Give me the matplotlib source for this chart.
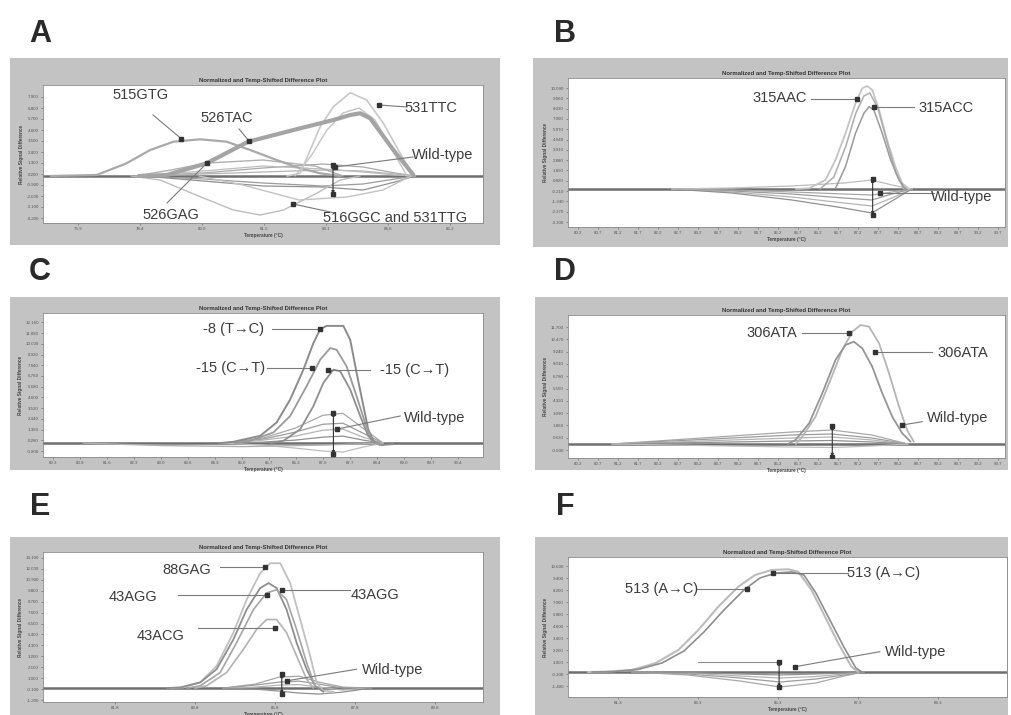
import matplotlib
matplotlib.use('Agg')
import matplotlib.pyplot as plt
from matplotlib.patches import Rectangle
import numpy as np

plt.rcParams['font.family'] = ['Liberation Sans', 'DejaVu Sans']

# ---------------- DATA (temperature in degC, relative signal difference) -------------
TITLE = "Normalized and Temp-Shifted Difference Plot"
XLABEL = "Temperature (\u00b0C)"
YLABEL = "Relative Signal Difference"

# Panel A
A_515GTG_x = [76.2, 77.34, 78.09, 78.68, 79.26, 79.93, 80.59, 81.18, 81.84, 82.43, 82.93, 83.43]
A_515GTG_y = [0.0, 0.1, 1.27, 2.6, 3.43, 3.67, 3.43, 2.6, 1.6, 0.77, 0.27, 0.0]
A_526TAC_x = [78.4, 79.09, 80.09, 81.13, 82.43, 83.26, 83.68, 83.93, 84.18, 84.76, 85.26]
A_526TAC_y = [0.0, 0.1, 1.27, 3.43, 4.77, 5.6, 6.1, 6.27, 5.77, 2.6, 0.1]
A_531TTC_x = [82.1, 82.43, 82.68, 82.93, 83.26, 83.68, 84.09, 84.51, 84.93, 85.26]
A_531TTC_y = [0.0, 0.27, 2.6, 4.93, 6.93, 8.33, 7.6, 5.27, 2.27, 0.1]
A_531TTC2_x = [82.3, 82.7, 83.1, 83.5, 83.9, 84.3, 84.7, 85.1]
A_531TTC2_y = [0.0, 2.0, 4.6, 6.3, 6.8, 5.6, 2.8, 0.0]
A_526GAG_x = [78.3, 79.2, 80.1, 81.5, 82.8, 83.5]
A_526GAG_y = [0.0, 0.6, 1.3, 1.6, 1.0, 0.0]
A_516GGC_x = [78.2, 78.93, 79.93, 80.76, 81.43, 82.01, 82.84, 83.43, 83.93]
A_516GGC_y = [0.0, -0.4, -2.07, -3.4, -3.9, -3.4, -1.73, -0.4, 0.0]
A_531TTG_x = [79.9, 81.0, 82.4, 83.6, 84.5, 85.2]
A_531TTG_y = [0.0, -0.9, -2.4, -2.1, -1.4, 0.0]
A_wt_x = [78.5, 80.0, 81.5, 83.0, 84.0, 84.8, 85.3]
A_wt_y = [[0, 0.3, 0.8, 1.2, 0.9, 0.3, 0],
          [0, -0.3, -0.7, -1.0, -0.8, -0.3, 0],
          [0, 0.2, 0.4, 0.6, 0.5, 0.2, 0],
          [0, -0.5, -1.0, -1.1, -1.4, -0.6, 0],
          [0, 0.5, 1.0, 0.7, 0.4, 0.1, 0]]

# Panel B
B_315AAC_x = [85.6, 85.93, 86.34, 86.59, 86.84, 87.09, 87.26, 87.38, 87.51, 87.68, 87.88, 88.09, 88.26, 88.43]
B_315AAC_y = [0.0, 0.07, 0.9, 2.9, 5.57, 8.57, 10.07, 10.3, 9.9, 7.9, 4.9, 2.23, 0.57, 0.0]
B_315AAC2_x = [86.2, 86.55, 86.85, 87.1, 87.3, 87.45, 87.65, 87.9, 88.1, 88.3]
B_315AAC2_y = [0.0, 1.2, 4.3, 7.6, 9.3, 9.6, 8.1, 4.4, 1.6, 0.0]
B_315ACC_x = [86.59, 86.84, 87.09, 87.3, 87.43, 87.55, 87.76, 87.97, 88.18, 88.34]
B_315ACC_y = [0.07, 2.23, 5.57, 7.57, 8.23, 7.9, 5.57, 2.9, 0.9, 0.0]
B_wt_x = [82.5, 84.0, 85.5, 86.8, 87.5, 88.0, 88.5]
B_wt_y = [[0, -0.1, -0.3, -0.5, -0.6, -0.3, 0],
          [0, -0.2, -0.5, -0.9, -1.1, -0.5, 0],
          [0, -0.3, -0.8, -1.4, -1.7, -0.9, 0],
          [0, -0.4, -1.1, -1.9, -2.4, -1.2, 0],
          [0, 0.1, 0.3, 0.6, 0.9, 0.4, 0]]

# Panel C
C_m8_x = [84.4, 84.76, 85.43, 85.84, 86.18, 86.51, 86.76, 86.93, 87.09, 87.51, 87.68, 87.84, 88.01, 88.13, 88.26, 88.43, 88.76]
C_m8_y = [0.0, 0.13, 0.73, 2.07, 4.4, 7.4, 10.07, 11.47, 11.8, 11.8, 10.4, 7.07, 3.73, 1.4, 0.23, -0.2, -0.1]
C_m15a_x = [84.8, 85.18, 85.76, 86.18, 86.59, 86.93, 87.18, 87.34, 87.59, 87.84, 88.05, 88.22, 88.43]
C_m15a_y = [0.0, 0.23, 1.07, 2.73, 5.73, 8.4, 9.57, 9.4, 7.73, 4.73, 2.07, 0.23, -0.2]
C_m15b_x = [85.7, 86.01, 86.43, 86.76, 87.01, 87.26, 87.43, 87.68, 87.93, 88.13, 88.3]
C_m15b_y = [0.0, 0.23, 1.4, 3.73, 6.07, 7.4, 7.23, 5.4, 2.73, 0.73, 0.0]
C_wt_x = [84.5, 85.5, 86.3, 87.0, 87.5, 88.0, 88.5]
C_wt_y = [[0, 0.5, 1.5, 2.8, 3.0, 1.5, 0],
          [0, 0.4, 1.1, 1.9, 2.0, 1.0, 0],
          [0, 0.3, 0.7, 1.3, 1.4, 0.6, 0],
          [0, 0.1, 0.3, 0.6, 0.7, 0.3, 0],
          [0, -0.2, -0.5, -0.8, -0.9, -0.4, 0]]
C_broad_x = [81.0, 83.0, 85.0, 87.0, 88.5]
C_broad_y = [0.0, -0.25, -0.35, -0.2, 0.0]

# Panel D
D_306a_x = [85.6, 85.76, 86.09, 86.43, 86.76, 87.01, 87.22, 87.43, 87.68, 87.93, 88.18, 88.38, 88.55]
D_306a_y = [0.0, 0.73, 2.73, 6.07, 9.4, 11.23, 11.9, 11.73, 10.07, 7.07, 3.73, 1.4, 0.23]
D_306b_x = [85.4, 85.59, 85.93, 86.26, 86.59, 86.84, 87.05, 87.26, 87.51, 87.76, 88.01, 88.26, 88.47]
D_306b_y = [0.0, 0.4, 2.07, 5.07, 8.4, 9.9, 10.23, 9.57, 7.73, 5.07, 2.73, 1.07, 0.23]
D_wt_x = [81.0, 82.5, 84.0, 85.5, 86.5, 87.5, 88.4]
D_wt_y = [[0, 0.4, 0.8, 1.2, 1.4, 0.9, 0],
          [0, 0.3, 0.6, 0.9, 1.0, 0.6, 0],
          [0, 0.2, 0.4, 0.6, 0.7, 0.4, 0],
          [0, 0.1, 0.2, 0.3, 0.35, 0.2, 0],
          [0, -0.1, -0.2, -0.3, -0.35, -0.2, 0]]

# Panel E
E_88GAG_x = [83.2, 83.51, 83.93, 84.34, 84.76, 85.09, 85.43, 85.68, 85.93, 86.18, 86.43, 86.68, 86.84, 87.01, 87.26]
E_88GAG_y = [0.0, 0.07, 0.57, 2.23, 5.57, 8.9, 11.57, 12.57, 12.57, 10.57, 6.9, 3.23, 0.57, -0.27, -0.37]
E_43AGGa_x = [83.1, 83.43, 83.93, 84.34, 84.76, 85.09, 85.43, 85.64, 85.84, 86.09, 86.34, 86.59, 86.8, 87.01]
E_43AGGa_y = [0.0, 0.07, 0.57, 1.9, 4.9, 7.9, 10.07, 10.57, 10.07, 7.9, 4.57, 1.9, 0.23, -0.37]
E_43AGGb_x = [83.6, 83.93, 84.43, 84.84, 85.26, 85.59, 85.84, 86.09, 86.34, 86.59, 86.8]
E_43AGGb_y = [0.0, 0.23, 1.57, 4.57, 7.9, 9.57, 9.9, 8.9, 5.9, 2.57, 0.23]
E_43ACG_x = [83.8, 84.09, 84.59, 85.01, 85.34, 85.59, 85.84, 86.09, 86.34, 86.59, 86.76]
E_43ACG_y = [0.0, 0.23, 1.57, 3.9, 5.9, 6.9, 6.9, 5.57, 3.23, 0.9, 0.0]
E_wt_x = [84.5, 85.3, 85.9, 86.4, 86.9, 87.5, 88.2]
E_wt_y = [[0, 0.4, 1.1, 1.2, 0.6, 0.1, 0],
          [0, 0.3, 0.6, 0.7, 0.4, 0.0, 0],
          [0, 0.1, 0.3, 0.35, 0.1, -0.2, 0],
          [0, -0.1, -0.3, -0.5, -0.6, -0.4, 0]]

# Panel F
F_513a_x = [80.5, 80.93, 81.59, 82.18, 82.76, 83.26, 83.76, 84.26, 84.68, 85.09, 85.51, 85.76, 86.09, 86.43, 86.76, 87.09, 87.26]
F_513a_y = [0.0, 0.03, 0.2, 0.87, 2.2, 4.2, 6.53, 8.53, 9.7, 10.2, 10.27, 10.03, 8.2, 5.53, 2.87, 0.53, 0.0]
F_513b_x = [80.6, 81.1, 81.75, 82.35, 82.9, 83.4, 83.9, 84.4, 84.8, 85.2, 85.6, 85.9, 86.2, 86.55, 86.9, 87.2, 87.35]
F_513b_y = [0.0, 0.03, 0.25, 0.9, 2.1, 4.0, 6.2, 8.2, 9.4, 9.9, 10.0, 9.7, 7.9, 5.2, 2.5, 0.4, 0.0]
F_wt_x = [81.6, 83.0, 84.3, 85.3, 86.2, 86.9, 87.4]
F_wt_y = [[0, -0.3, -0.9, -1.5, -1.1, -0.4, 0],
          [0, -0.2, -0.6, -1.0, -0.7, -0.3, 0],
          [0, -0.1, -0.4, -0.6, -0.45, -0.2, 0],
          [0, -0.05, -0.2, -0.3, -0.2, -0.1, 0]]
F_wtline_x = [83.26, 85.26]
F_wtline_y = [1.03, 1.03]

# Annotations: (text, text_x, text_y, line_start_x, line_start_y, target_x, target_y)
A_notes = [("515GTG", 78.45, 8.1, 78.75, 6.1, 79.45, 3.75),
           ("526TAC", 80.6, 5.8, 80.9, 4.7, 81.15, 3.5),
           ("531TTC", 85.7, 6.8, 85.1, 6.9, 84.4, 7.1),
           ("Wild-type", 86.0, 2.1, 85.25, 1.9, 83.3, 0.9),
           ("526GAG", 79.2, -3.9, 79.1, -2.7, 80.1, 1.3),
           ("516GGC and 531TTG", 84.8, -4.2, 83.3, -3.7, 82.25, -2.8)]
A_wtarrow = (83.25, 1.1, -1.8)

B_notes = [("315AAC", 85.2, 9.1, 85.97, 9.0, 87.13, 9.0),
           ("315ACC", 89.35, 8.1, 88.55, 8.17, 87.55, 8.17),
           ("Wild-type", 89.75, -0.75, 89.05, -0.4, 87.7, -0.4)]
B_wtarrow = (87.52, 1.0, -2.6)

C_notes = [("-8 (T\u2192C)", 84.76, 11.47, 85.72, 11.47, 86.93, 11.47),
           ("-15 (C\u2192T)", 84.68, 7.6, 85.59, 7.6, 86.72, 7.6),
           ("-15 (C\u2192T)", 89.3, 7.33, 88.18, 7.33, 87.13, 7.33),
           ("Wild-type", 89.8, 2.5, 88.93, 2.73, 87.34, 1.4)]
C_wtarrow = (87.26, 3.07, -1.1)

D_notes = [("306ATA", 85.0, 11.13, 85.76, 11.13, 86.93, 11.13),
           ("306ATA", 89.78, 9.07, 89.0, 9.2, 87.59, 9.2),
           ("Wild-type", 89.65, 2.63, 88.76, 2.23, 88.26, 1.9)]
D_wtarrow = (86.51, 1.8, -1.27)

E_notes = [("88GAG", 83.6, 11.9, 84.43, 12.17, 85.55, 12.17),
           ("43AGG", 82.26, 9.17, 83.38, 9.4, 85.59, 9.4),
           ("43AGG", 88.3, 9.4, 87.68, 9.83, 85.97, 9.83),
           ("43ACG", 82.93, 5.23, 83.88, 6.07, 85.8, 6.07),
           ("Wild-type", 88.75, 1.83, 87.84, 1.9, 86.09, 0.73)]
E_wtarrow = (85.97, 1.4, -0.6)

F_notes = [("513 (A\u2192C)", 82.34, 8.27, 83.22, 8.27, 84.47, 8.27),
           ("513 (A\u2192C)", 87.9, 9.87, 87.01, 9.87, 85.13, 9.87),
           ("Wild-type", 88.7, 2.03, 87.8, 2.03, 85.68, 0.53)]
F_wtarrow = (85.28, 1.03, -1.53)

# ---------------- FIGURE ----------------
W, H = 1012, 715
fig = plt.figure(figsize=(W / 100, H / 100), dpi=100)
fig.patch.set_facecolor('white')

# background layer for the grey frames
bg = fig.add_axes([0, 0, 1, 1], zorder=-10)
bg.set_xlim(0, W)
bg.set_ylim(H, 0)
bg.axis('off')

FRAME_C = '#c3c3c3'
CURVE_C = ['#a8a8a8', '#9c9c9c', '#b4b4b4', '#909090', '#bdbdbd']
TXT_C = '#3c3c3c'


def box(x0, y0, x1, y1):
    return [x0 / W, 1 - y1 / H, (x1 - x0) / W, (y1 - y0) / H]


def make_panel(letter, letter_xy, frame, plot, xlim, ylim, xticks, yticks):
    fx0, fy0, fx1, fy1 = frame
    bg.add_patch(Rectangle((fx0, fy0), fx1 - fx0, fy1 - fy0,
                           facecolor=FRAME_C, edgecolor='none'))
    bg.text(letter_xy[0], letter_xy[1], letter, fontsize=22, fontweight='bold',
            color='#2a2a2a', ha='center', va='center')
    ax = fig.add_axes(box(*plot), zorder=1)
    ax.set_facecolor('white')
    ax.set_xlim(*xlim)
    ax.set_ylim(*ylim)
    ax.set_xticks(xticks)
    ax.set_xticklabels([f"{v:.1f}" for v in xticks])
    ax.set_yticks(yticks)
    ax.set_yticklabels([f"{v:.3f}" for v in yticks])
    ax.tick_params(labelsize=3.2, length=1.5, width=0.4, colors='#555555', pad=1.5)
    for s in ax.spines.values():
        s.set_color('#8a8a8a')
        s.set_linewidth(0.6)
    ax.set_title(TITLE, fontsize=4.3, fontweight='bold', color='#333333', pad=2.5)
    ax.set_xlabel(XLABEL, fontsize=3.4, fontweight='bold', color='#444444', labelpad=1)
    ax.set_ylabel(YLABEL, fontsize=3.4, fontweight='bold', color='#444444', labelpad=1.5)
    # reference baseline
    ax.plot(list(xlim), [0, 0], color='#6e6e6e', lw=1.8, zorder=2)
    return ax


def curve(ax, x, y, color='#a0a0a0', lw=1.2, z=3):
    ax.plot(x, y, color=color, lw=lw, zorder=z, solid_capstyle='round')


def wild(ax, x, ys, lw=0.9):
    for i, y in enumerate(ys):
        ax.plot(x, y, color=CURVE_C[i % len(CURVE_C)], lw=lw, zorder=2.5)


def notes(ax, items, size=10.5):
    for t, tx, ty, lx, ly, px, py in items:
        ax.plot([lx, px], [ly, py], color='#7a7a7a', lw=0.8, zorder=5)
        ax.plot([px], [py], marker='s', ms=2.6, color='#333333', zorder=6)
        ax.text(tx, ty, t, fontsize=size, color=TXT_C, ha='center', va='center', zorder=7)


def wtarrow(ax, spec):
    x, yt, yb = spec
    ax.annotate('', xy=(x, yt), xytext=(x, yb),
                arrowprops=dict(arrowstyle='<|-|>', lw=0.8, color='#333333',
                                mutation_scale=4, shrinkA=0, shrinkB=0), zorder=6)
    ax.plot([x, x], [yt, yb], ls='none', marker='s', ms=2.2, color='#333333', zorder=6)


# Panel A
axA = make_panel('A', (40, 34), (10, 58, 500, 245), (43, 85, 483, 223),
                 (76.0, 87.0), (-4.7, 9.1),
                 np.arange(76.875, 87.0, 1.55), np.arange(-4.2, 9.0, 1.1))
wild(axA, A_wt_x, A_wt_y)
curve(axA, A_516GGC_x, A_516GGC_y, '#bdbdbd', 1.0)
curve(axA, A_531TTG_x, A_531TTG_y, '#c2c2c2', 1.0)
curve(axA, A_526GAG_x, A_526GAG_y, '#b0b0b0', 1.0)
curve(axA, A_515GTG_x, A_515GTG_y, '#a9a9a9', 1.6)
curve(axA, A_531TTC2_x, A_531TTC2_y, '#c4c4c4', 1.0)
curve(axA, A_531TTC_x, A_531TTC_y, '#c8c8c8', 1.2)
curve(axA, A_526TAC_x, A_526TAC_y, '#a4a4a4', 3.0)
notes(axA, A_notes)
wtarrow(axA, A_wtarrow)

# Panel B
axB = make_panel('B', (565, 34), (533, 58, 1008, 247), (568, 78, 1005, 227),
                 (79.9, 90.83), (-3.8, 11.1),
                 np.arange(80.15, 90.8, 0.5), np.arange(-3.3, 11.0, 1.03))
wild(axB, B_wt_x, B_wt_y)
curve(axB, B_315AAC_x, B_315AAC_y, '#c4c4c4', 1.3)
curve(axB, B_315AAC2_x, B_315AAC2_y, '#adadad', 1.1)
curve(axB, B_315ACC_x, B_315ACC_y, '#9a9a9a', 1.1)
notes(axB, B_notes)
wtarrow(axB, B_wtarrow)

# Panel C
axC = make_panel('C', (40, 272), (10, 297, 500, 470), (43, 313, 483, 457),
                 (80.0, 91.0), (-1.4, 13.1),
                 np.arange(80.26, 91.0, 0.675), np.arange(-0.8, 13.0, 1.08))
curve(axC, C_broad_x, C_broad_y, '#b0b0b0', 1.0)
wild(axC, C_wt_x, C_wt_y)
curve(axC, C_m8_x, C_m8_y, '#8c8c8c', 1.4)
curve(axC, C_m15a_x, C_m15a_y, '#9a9a9a', 1.3)
curve(axC, C_m15b_x, C_m15b_y, '#8f8f8f', 1.3)
notes(axC, C_notes)
wtarrow(axC, C_wtarrow)

# Panel D
axD = make_panel('D', (565, 272), (535, 297, 1008, 470), (568, 315, 1005, 458),
                 (79.9, 90.83), (-1.4, 12.9),
                 np.arange(80.15, 90.8, 0.5), np.arange(-0.6, 12.8, 1.23))
wild(axD, D_wt_x, D_wt_y)
curve(axD, D_306a_x, D_306a_y, '#b5b5b5', 1.3)
curve(axD, D_306b_x, D_306b_y, '#959595', 1.3)
notes(axD, D_notes)
wtarrow(axD, D_wtarrow)

# Panel E
axE = make_panel('E', (40, 507), (10, 537, 500, 715), (43, 552, 483, 702),
                 (80.0, 91.0), (-1.4, 13.7),
                 np.arange(81.8, 91.0, 2.0), np.arange(-1.2, 13.6, 1.1))
wild(axE, E_wt_x, E_wt_y)
curve(axE, E_88GAG_x, E_88GAG_y, '#c0c0c0', 1.3)
curve(axE, E_43AGGa_x, E_43AGGa_y, '#8e8e8e', 1.3)
curve(axE, E_43AGGb_x, E_43AGGb_y, '#a5a5a5', 1.2)
curve(axE, E_43ACG_x, E_43ACG_y, '#b2b2b2', 1.2)
notes(axE, E_notes)
wtarrow(axE, E_wtarrow)

# Panel F
axF = make_panel('F', (565, 507), (535, 537, 1008, 715), (568, 557, 1007, 697),
                 (80.0, 90.98), (-2.5, 11.5),
                 np.arange(81.26, 91.0, 2.0), np.arange(-1.4, 11.4, 1.2))
wild(axF, F_wt_x, F_wt_y)
curve(axF, F_wtline_x, F_wtline_y, '#8a8a8a', 0.8)
curve(axF, F_513a_x, F_513a_y, '#bcbcbc', 1.5)
curve(axF, F_513b_x, F_513b_y, '#8e8e8e', 1.2)
notes(axF, F_notes)
wtarrow(axF, F_wtarrow)

fig.savefig('out.png', dpi=100, facecolor='white')
